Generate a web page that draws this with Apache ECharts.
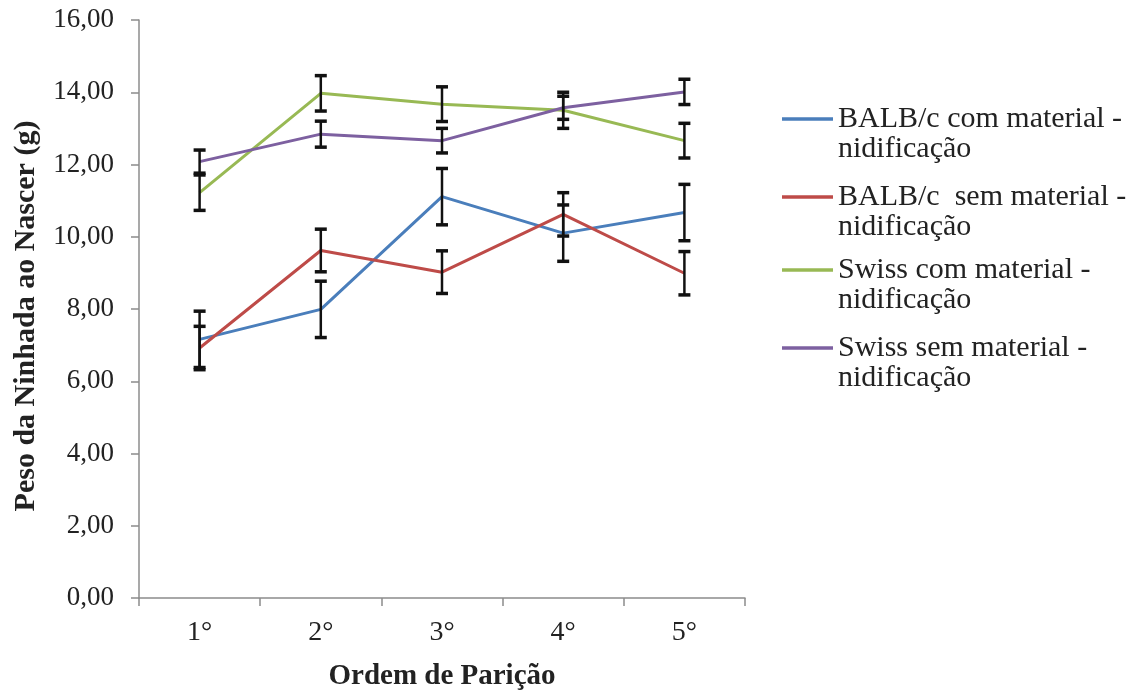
<!DOCTYPE html>
<html>
<head>
<meta charset="utf-8">
<script src="https://cdn.jsdelivr.net/npm/echarts@6/dist/echarts.min.js"></script>
<style>
html,body{margin:0;padding:0;background:#fff;}
#chart{width:1137px;height:691px;}
</style>
</head>
<body>
<div id="chart"></div>
<script>
const categories = ['1°', '2°', '3°', '4°', '5°'];
const yTicks = [0, 2, 4, 6, 8, 10, 12, 14, 16];

const seriesNames = [
  'BALB/c com material - nidificação',
  'BALB/c  sem material - nidificação',
  'Swiss com material - nidificação',
  'Swiss sem material - nidificação'
];
const seriesColors = ['#4A7EBB', '#BE4B48', '#98B954', '#7D60A0'];

const balbCom     = [7.16, 7.99, 11.11, 10.10, 10.67];
const balbComErr  = [0.78, 0.78, 0.78, 0.78, 0.78];
const balbSem     = [6.92, 9.62, 9.02, 10.62, 8.99];
const balbSemErr  = [0.60, 0.59, 0.59, 0.60, 0.60];
const swissCom    = [11.22, 13.97, 13.67, 13.50, 12.66];
const swissComErr = [0.49, 0.49, 0.48, 0.50, 0.48];
const swissSem    = [12.08, 12.84, 12.66, 13.57, 14.01];
const swissSemErr = [0.32, 0.36, 0.34, 0.32, 0.35];

const values = [balbCom, balbSem, swissCom, swissSem];
const errors = [balbComErr, balbSemErr, swissComErr, swissSemErr];

const FONT = "'Liberation Serif', 'Times New Roman', serif";
const TEXT = '#222';

function renderErr(params, api) {
  const x = api.value(0), lo = api.value(1), hi = api.value(2);
  const top = api.coord([x, hi]);
  const bot = api.coord([x, lo]);
  const hw = 6;
  const st = {stroke: '#111', lineWidth: 2.5};
  const cap = {stroke: '#111', lineWidth: 3.5};
  return {
    type: 'group',
    children: [
      {type: 'line', shape: {x1: top[0], y1: top[1], x2: bot[0], y2: bot[1]}, style: st},
      {type: 'line', shape: {x1: top[0] - hw, y1: top[1], x2: top[0] + hw, y2: top[1]}, style: cap},
      {type: 'line', shape: {x1: bot[0] - hw, y1: bot[1], x2: bot[0] + hw, y2: bot[1]}, style: cap}
    ]
  };
}

const series = [];
seriesNames.forEach((name, k) => {
  series.push({
    name: name,
    type: 'line',
    data: values[k],
    symbol: 'none',
    lineStyle: {color: seriesColors[k], width: 3},
    itemStyle: {color: seriesColors[k]},
    z: 2
  });
});
seriesNames.forEach((name, k) => {
  series.push({
    name: 'err' + k,
    type: 'custom',
    renderItem: renderErr,
    encode: {x: 0, y: [1, 2]},
    data: values[k].map((v, i) => [i, v - errors[k][i], v + errors[k][i]]),
    z: 5
  });
});

const legendTops = [74, 152, 225, 303];
const legends = seriesNames.map((name, k) => ({
  data: [name],
  left: 782,
  top: legendTops[k],
  padding: 0,
  icon: 'rect',
  itemWidth: 51,
  itemHeight: 3.5,
  selectedMode: false,
  formatter: n => '\n' + n.replace(' - ', ' -\n'),
  textStyle: {
    fontFamily: FONT,
    fontSize: 30,
    color: TEXT,
    lineHeight: 30
  }
}));

const chart = echarts.init(document.getElementById('chart'));
chart.setOption({
  animation: false,
  backgroundColor: '#fff',
  grid: {left: 139, right: 392, top: 20, bottom: 93, containLabel: false, outerBoundsMode: 'none'},
  legend: legends,
  xAxis: {
    type: 'category',
    data: categories,
    boundaryGap: true,
    name: 'Ordem de Parição',
    nameLocation: 'middle',
    nameGap: 64,
    nameTextStyle: {fontFamily: FONT, fontSize: 29, fontWeight: 'bold', color: TEXT},
    axisLine: {show: true, lineStyle: {color: '#8c8c8c', width: 1.5}},
    axisTick: {show: true, length: 8, lineStyle: {color: '#8c8c8c', width: 1.5}},
    axisLabel: {fontFamily: FONT, fontSize: 28, color: TEXT, margin: 21},
    splitLine: {show: false}
  },
  yAxis: {
    type: 'value',
    min: yTicks[0],
    max: yTicks[yTicks.length - 1],
    interval: 2,
    name: 'Peso da Ninhada ao Nascer (g)',
    nameLocation: 'middle',
    nameRotate: 90,
    nameGap: 98,
    nameTextStyle: {fontFamily: FONT, fontSize: 30, fontWeight: 'bold', color: TEXT, padding: [0, 14, 0, 0]},
    axisLine: {show: true, lineStyle: {color: '#8c8c8c', width: 1.5}},
    axisTick: {show: true, length: 8, lineStyle: {color: '#8c8c8c', width: 1.5}},
    axisLabel: {
      fontFamily: FONT, fontSize: 27, color: TEXT, margin: 25,
      formatter: v => v.toFixed(2).replace('.', ',')
    },
    splitLine: {show: false}
  },
  series: series
});
</script>
</body>
</html>
